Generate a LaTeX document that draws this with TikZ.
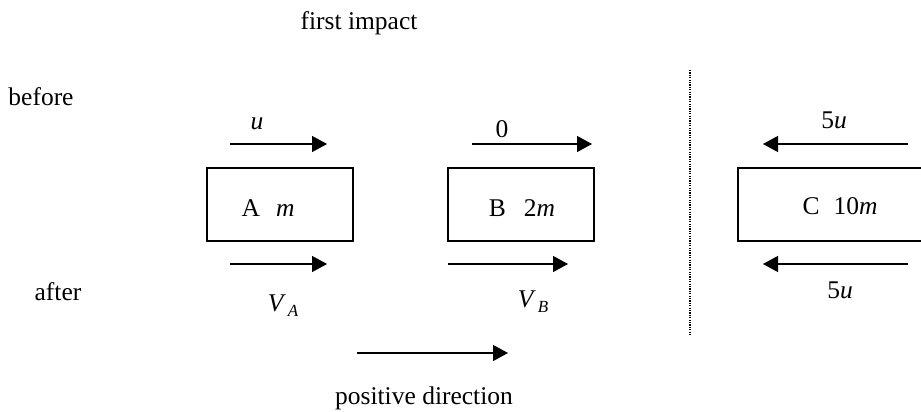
\documentclass[tikz,border=0pt]{standalone}
\usepackage{fontspec}
\setmainfont{Liberation Serif}
\usetikzlibrary{arrows.meta}

\begin{document}
\begin{tikzpicture}[x=0.5pt,y=-0.5pt,
  every node/.style={font=\fontsize{12.75}{15}\selectfont},
  block/.style={draw,line width=0.7pt,minimum height=36.5pt,inner sep=0pt},
  vel/.style={line width=0.7pt,-{Triangle[length=7.5pt,width=8pt]}}]
\useasboundingbox (0,0) rectangle (921,412);
% headings:
\node (title) at (359,23) {first impact};
\node (before) at (41,97) {before};
\node (after) at (58,291.5) {after};
% blocks:
\node[block,minimum width=73pt] (A) at (280,204.5) {};
\node[block,minimum width=73pt] (B) at (521,204.5) {};
\node[block,minimum width=100pt] (C) at (838,204.5) {};
\node (Atext) at (268,208) {A\hspace{8pt}\textit{m}};
\node (Btext) at (522,208) {B\hspace{9pt}2\textit{m}};
\node (Ctext) at (840,206) {C\hspace{7pt}10\textit{m}};
% velocities before:
\draw[vel] (230,144) -- (327,144);
\draw[vel] (472,144) -- (592,144);
\draw[vel] (908,144) -- (763,144);
\node (uA) at (257,124) {\textit{u}};
\node (uB) at (502,129) {0};
\node (uC) at (834,120) {5\textit{u}};
% velocities after:
\draw[vel] (230,264) -- (327,264);
\draw[vel] (448,264) -- (568,264);
\draw[vel] (908,264) -- (763,264);
\node (vA) at (283,306) {\textit{V}\hspace{1pt}\raisebox{-2.5pt}{\fontsize{8.5}{8.5}\selectfont\textit{A}}};
\node (vB) at (533,302) {\textit{V}\hspace{1pt}\raisebox{-2.5pt}{\fontsize{8.5}{8.5}\selectfont\textit{B}}};
\node (vC) at (840,290) {5\textit{u}};
% separator:
\draw[line width=0.8pt,dash pattern=on 0.6pt off 0.6pt] (690,70) -- (690,335);
% sign convention:
\draw[vel] (357,353) -- (508,353);
\node (pos) at (424,398) {positive direction};
\end{tikzpicture}
\end{document}
